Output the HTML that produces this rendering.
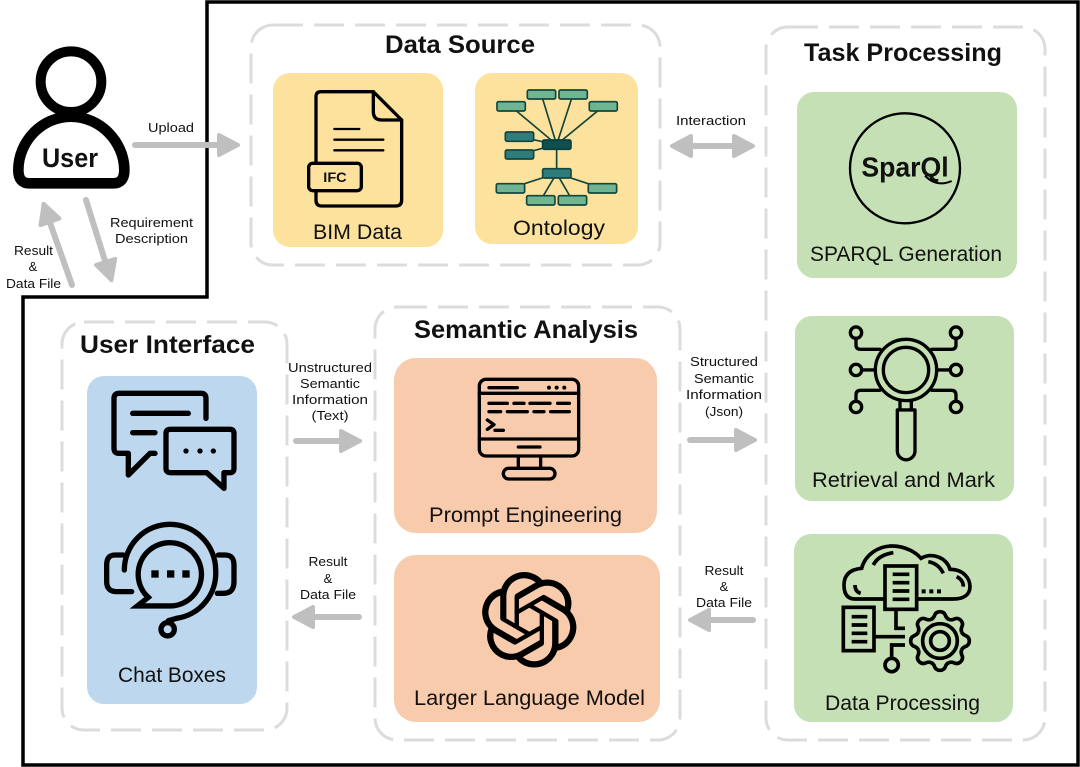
<!DOCTYPE html>
<html><head><meta charset="utf-8"><style>
html,body{margin:0;padding:0;background:#fff}
svg{display:block}
text{font-family:"Liberation Sans",sans-serif;fill:#111}
.l{font-size:13px;text-anchor:middle}
.c{font-size:21px;text-anchor:middle}
.t{font-size:25px;font-weight:bold;text-anchor:middle}
.d{fill:none;stroke:#dcdcdc;stroke-width:3;stroke-dasharray:30 11}
.a{stroke:#bfbfbf;stroke-width:6;stroke-linecap:round;fill:none}
.h{fill:#bfbfbf;stroke:#bfbfbf;stroke-width:4;stroke-linejoin:round}
.i{fill:none;stroke:#000;stroke-linecap:round;stroke-linejoin:round}
</style></head><body>
<svg width="1080" height="767" viewBox="0 0 1080 767" xmlns="http://www.w3.org/2000/svg">
<defs><polygon id="ah" class="h" points="-21,-10 -2,0 -21,10"/>
<path id="gt" d="M-26.8,-64.7 Q-20,-68 -17,-75 Q-13,-88 0,-88 Q13,-88 17,-75 Q20,-68 26.8,-64.7"/></defs>
<rect width="1080" height="767" fill="#fff"/>
<path d="M207,2 H1078 V765 H23 V297 H207 Z" fill="none" stroke="#000" stroke-width="3.5"/>

<rect class="d" x="251" y="25" width="409" height="240" rx="22"/>
<rect class="d" x="766" y="27" width="279" height="713" rx="22"/>
<rect class="d" x="375" y="307" width="305" height="433" rx="22"/>
<rect class="d" x="62" y="322" width="225" height="408" rx="22"/>

<rect x="273" y="73" width="170" height="174" rx="17" fill="#fde29d"/>
<rect x="475" y="73" width="163" height="171" rx="17" fill="#fde29d"/>
<rect x="797" y="92" width="220" height="186" rx="17" fill="#c5e0b4"/>
<rect x="795" y="316" width="219" height="185" rx="17" fill="#c5e0b4"/>
<rect x="794" y="534" width="219" height="188" rx="17" fill="#c5e0b4"/>
<rect x="394" y="358" width="263" height="175" rx="22" fill="#f8cbad"/>
<rect x="394" y="555" width="266" height="167" rx="22" fill="#f8cbad"/>
<rect x="87" y="376" width="170" height="328" rx="17" fill="#bdd7ee"/>

<!-- User -->
<g transform="scale(.3333)">
<circle cx="213" cy="245" r="91" fill="none" stroke="#000" stroke-width="30"/>
<path d="M88,550 Q55,550 55,510 C55,425 125,350 213,350 C300,350 373,425 373,510 Q373,550 340,550 Z" fill="#fff" stroke="#000" stroke-width="32" stroke-linejoin="round"/>
</g>
<text x="70" y="167" font-size="27" font-weight="bold" text-anchor="middle" textLength="56" lengthAdjust="spacingAndGlyphs">User</text>

<!-- Arrows -->
<line class="a" x1="135" y1="145" x2="220" y2="145"/><use href="#ah" transform="translate(240,145)"/>
<line class="a" x1="72" y1="285" x2="49" y2="220"/><use href="#ah" transform="translate(43,202) rotate(-109.3)"/>
<line class="a" x1="86" y1="200" x2="106" y2="264"/><use href="#ah" transform="translate(112,282) rotate(72.4)"/>
<line class="a" x1="690" y1="146" x2="735" y2="146"/><use href="#ah" transform="translate(755,146)"/><use href="#ah" transform="translate(670,146) rotate(180)"/>
<line class="a" x1="296" y1="441" x2="342" y2="441"/><use href="#ah" transform="translate(362,441)"/>
<line class="a" x1="690" y1="440" x2="737" y2="440"/><use href="#ah" transform="translate(757,440)"/>
<line class="a" x1="359" y1="617" x2="312" y2="617"/><use href="#ah" transform="translate(292,617) rotate(180)"/>
<line class="a" x1="753" y1="620" x2="708" y2="620"/><use href="#ah" transform="translate(688,620) rotate(180)"/>

<!-- Titles -->
<text class="t" x="460" y="53" textLength="150" lengthAdjust="spacingAndGlyphs">Data Source</text>
<text class="t" x="903" y="61" textLength="198" lengthAdjust="spacingAndGlyphs">Task Processing</text>
<text class="t" x="526" y="338" textLength="224" lengthAdjust="spacingAndGlyphs">Semantic Analysis</text>
<text class="t" x="167.500" y="353" textLength="175" lengthAdjust="spacingAndGlyphs">User Interface</text>

<!-- Card labels -->
<text class="c" x="357.500" y="239" textLength="89" lengthAdjust="spacingAndGlyphs">BIM Data</text>
<text class="c" x="559" y="235" textLength="92" lengthAdjust="spacingAndGlyphs">Ontology</text>
<text class="c" x="906" y="261" textLength="192" lengthAdjust="spacingAndGlyphs">SPARQL Generation</text>
<text class="c" x="903.500" y="487" textLength="183" lengthAdjust="spacingAndGlyphs">Retrieval and Mark</text>
<text class="c" x="902.500" y="710" textLength="155" lengthAdjust="spacingAndGlyphs">Data Processing</text>
<text class="c" x="525.500" y="522" textLength="193" lengthAdjust="spacingAndGlyphs">Prompt Engineering</text>
<text class="c" x="529.500" y="705" textLength="231" lengthAdjust="spacingAndGlyphs">Larger Language Model</text>
<text class="c" x="172" y="682" textLength="108" lengthAdjust="spacingAndGlyphs">Chat Boxes</text>

<!-- Connector labels -->
<text class="l" x="171" y="132" textLength="46" lengthAdjust="spacingAndGlyphs">Upload</text>
<text class="l" x="151.500" y="227" textLength="83" lengthAdjust="spacingAndGlyphs">Requirement</text>
<text class="l" x="151.500" y="243" textLength="73" lengthAdjust="spacingAndGlyphs">Description</text>
<text class="l" x="33.500" y="255" textLength="39" lengthAdjust="spacingAndGlyphs">Result</text>
<text class="l" x="33" y="271">&amp;</text>
<text class="l" x="33.500" y="288" textLength="55" lengthAdjust="spacingAndGlyphs">Data File</text>
<text class="l" x="711" y="125" textLength="70" lengthAdjust="spacingAndGlyphs">Interaction</text>
<text class="l" x="330" y="372" textLength="84" lengthAdjust="spacingAndGlyphs">Unstructured</text>
<text class="l" x="330" y="388" textLength="60" lengthAdjust="spacingAndGlyphs">Semantic</text>
<text class="l" x="330" y="404" textLength="76" lengthAdjust="spacingAndGlyphs">Information</text>
<text class="l" x="330" y="420" textLength="37" lengthAdjust="spacingAndGlyphs">(Text)</text>
<text class="l" x="724" y="366" textLength="68" lengthAdjust="spacingAndGlyphs">Structured</text>
<text class="l" x="724" y="383" textLength="60" lengthAdjust="spacingAndGlyphs">Semantic</text>
<text class="l" x="724" y="399" textLength="76" lengthAdjust="spacingAndGlyphs">Information</text>
<text class="l" x="724" y="416" textLength="38" lengthAdjust="spacingAndGlyphs">(Json)</text>
<text class="l" x="328" y="566" textLength="39" lengthAdjust="spacingAndGlyphs">Result</text>
<text class="l" x="328" y="583">&amp;</text>
<text class="l" x="328" y="599" textLength="56" lengthAdjust="spacingAndGlyphs">Data File</text>
<text class="l" x="724" y="575" textLength="39" lengthAdjust="spacingAndGlyphs">Result</text>
<text class="l" x="724" y="591">&amp;</text>
<text class="l" x="724" y="607" textLength="56" lengthAdjust="spacingAndGlyphs">Data File</text>

<!-- BIM + Ontology icons -->
<g transform="translate(265,60) scale(.3333)">
<g class="i" stroke-width="10">
<path d="M153,310 V110 Q153,95 168,95 H325 L410,180 V420 Q410,438 392,438 H170 Q153,438 153,420 V393"/>
<path d="M325,95 V155 Q325,180 350,180 H410"/>
<path d="M208,207 H283 M208,239 H355 M208,271 H355" stroke-width="7"/>
<rect x="131" y="310" width="158" height="82" rx="12"/>
</g>
<text x="210" y="366" font-size="42" font-weight="bold" text-anchor="middle" textLength="70" lengthAdjust="spacingAndGlyphs">IFC</text>
<g stroke="#14463c" stroke-width="5" fill="none">
<path d="M875,254 L738,139 M875,254 L829,103 M875,254 L924,103 M875,254 L1015,139 M875,254 L763,230 M875,254 L763,283 M875,254 V340 L736,385 M875,340 L827,421 M875,340 L922,421 M875,340 L1012,385"/>
</g>
<g stroke="#14463c" stroke-width="5" fill="#6fb592">
<rect x="787" y="90" width="85" height="27" rx="5"/><rect x="882" y="90" width="85" height="27" rx="5"/>
<rect x="696" y="125" width="85" height="28" rx="5"/><rect x="973" y="125" width="84" height="28" rx="5"/>
<rect x="694" y="371" width="85" height="28" rx="5"/><rect x="970" y="371" width="85" height="28" rx="5"/>
<rect x="785" y="407" width="85" height="28" rx="5"/><rect x="880" y="407" width="85" height="28" rx="5"/>
</g>
<g stroke="#14463c" stroke-width="5" fill="#2f7c7c">
<rect x="721" y="216" width="85" height="28" rx="5"/><rect x="721" y="270" width="85" height="27" rx="5"/>
<rect x="833" y="326" width="85" height="28" rx="5"/>
</g>
<rect x="833" y="240" width="85" height="28" rx="5" stroke="#0c3f3f" stroke-width="5" fill="#0f4f4f"/>
</g>

<!-- SPARQL + Retrieval -->
<g transform="translate(790,85) scale(.3333)">
<circle cx="345" cy="250" r="165" fill="none" stroke="#000" stroke-width="7"/>
<text x="345" y="275" font-size="84" font-weight="bold" text-anchor="middle" textLength="262" lengthAdjust="spacingAndGlyphs">SparQl</text>
<path d="M405,272 Q440,308 485,288" fill="none" stroke="#000" stroke-width="6"/>
<g class="i" stroke-width="10">
<circle cx="348" cy="855" r="92"/><circle cx="348" cy="855" r="68"/>
<path d="M330,948 V975 M364,948 V975 M322,975 H375 V1098 A26 26 0 0 1 322,1098 Z"/>
<circle cx="198" cy="743" r="17"/><circle cx="498" cy="743" r="17"/><circle cx="198" cy="855" r="17"/><circle cx="498" cy="855" r="17"/><circle cx="198" cy="966" r="17"/><circle cx="498" cy="966" r="17"/>
<path d="M198,760 V780 Q198,793 212,793 H270 M498,760 V780 Q498,793 484,793 H425 M215,855 H255 M481,855 H441 M198,949 V930 Q198,916 212,916 H270 M498,949 V930 Q498,916 484,916 H425"/>
</g>
</g>

<!-- Data processing -->
<g transform="translate(790,530) scale(.3333)">
<g fill="none" stroke="#000" stroke-width="11">
<path d="M285,207 H195 Q162,207 162,165 Q162,120 215,115 C225,75 265,48 305,48 C350,48 380,70 393,85 C430,65 470,85 480,118 C520,118 540,145 540,170 C540,195 520,207 490,207 H380"/>
<path d="M250,105 Q265,75 310,68 M415,95 Q445,100 460,130 M195,165 Q195,185 212,190 M500,140 Q520,150 520,170"/>
<rect x="285" y="108" width="95" height="130" fill="#c5e0b4"/>
<rect x="160" y="232" width="92" height="130" fill="#c5e0b4"/>
<path d="M308,133 H358 M308,158 H358 M308,183 H358 M308,208 H358 M185,260 H232 M185,285 H232 M185,310 H232 M185,335 H232"/>
<path d="M318,238 V295 H345 M252,320 H345 M345,345 H305 V385"/>
<circle cx="305" cy="405" r="20"/>
<path d="M395,184 H455" stroke-width="12" stroke-dasharray="12 11"/>
<g transform="translate(450,333)">
<use href="#gt"/><use href="#gt" transform="rotate(45)"/><use href="#gt" transform="rotate(90)"/><use href="#gt" transform="rotate(135)"/><use href="#gt" transform="rotate(180)"/><use href="#gt" transform="rotate(225)"/><use href="#gt" transform="rotate(270)"/><use href="#gt" transform="rotate(315)"/>
<circle r="52"/><circle r="28"/>
</g>
</g>
</g>

<!-- Prompt -->
<g transform="translate(390,350) scale(.3333)">
<g class="i" stroke-width="10">
<rect x="268" y="88" width="298" height="230" rx="20"/>
<path d="M268,130 H566 M268,267 H566"/>
<path d="M297,113 H382 M385,291 H450"/>
<path d="M297,160 H352 M372,160 H402 M420,160 H480 M503,160 H538 M297,185 H332 M352,185 H412 M432,185 H462 M482,185 H538"/>
<path d="M292,210 L312,224 L292,238 M315,241 H340"/>
<path d="M385,318 V355 M452,318 V355"/>
<rect x="340" y="355" width="155" height="32" rx="16"/>
</g>
<circle cx="477" cy="113" r="6"/><circle cx="500" cy="113" r="6"/><circle cx="523" cy="113" r="6"/>
</g>
<!-- LLM knot icon -->
<g transform="translate(481.500,572) scale(3.98)">
<path d="M22.2819 9.8211a5.9847 5.9847 0 0 0-.5157-4.9108 6.0462 6.0462 0 0 0-6.5098-2.9A6.0651 6.0651 0 0 0 4.9807 4.1818a5.9847 5.9847 0 0 0-3.9977 2.9 6.0462 6.0462 0 0 0 .7427 7.0966 5.98 5.98 0 0 0 .511 4.9107 6.051 6.051 0 0 0 6.5146 2.9001A5.9847 5.9847 0 0 0 13.2599 24a6.0557 6.0557 0 0 0 5.7718-4.2058 5.9894 5.9894 0 0 0 3.9977-2.9001 6.0557 6.0557 0 0 0-.7475-7.0729zm-9.022 12.6081a4.4755 4.4755 0 0 1-2.8764-1.0408l.1419-.0804 4.7783-2.7582a.7948.7948 0 0 0 .3927-.6813v-6.7369l2.02 1.1686a.071.071 0 0 1 .038.052v5.5826a4.504 4.504 0 0 1-4.4945 4.4944zm-9.6607-4.1254a4.4708 4.4708 0 0 1-.5346-3.0137l.142.0852 4.783 2.7582a.7712.7712 0 0 0 .7806 0l5.8428-3.3685v2.3324a.0804.0804 0 0 1-.0332.0615L9.74 19.9502a4.4992 4.4992 0 0 1-6.1408-1.6464zM2.3408 7.8956a4.485 4.485 0 0 1 2.3655-1.9728V11.6a.7664.7664 0 0 0 .3879.6765l5.8144 3.3543-2.0201 1.1685a.0757.0757 0 0 1-.071 0l-4.8303-2.7865A4.504 4.504 0 0 1 2.3408 7.872zm16.5963 3.8558L13.1038 8.364 15.1192 7.2a.0757.0757 0 0 1 .071 0l4.8303 2.7913a4.4944 4.4944 0 0 1-.6765 8.1042v-5.6772a.79.79 0 0 0-.407-.667zm2.0107-3.0231l-.142-.0852-4.7735-2.7818a.7759.7759 0 0 0-.7854 0L9.409 9.2297V6.8974a.0662.0662 0 0 1 .0284-.0615l4.8303-2.7866a4.4992 4.4992 0 0 1 6.6802 4.66zM8.3065 12.863l-2.02-1.1638a.0804.0804 0 0 1-.038-.0567V6.0742a4.4992 4.4992 0 0 1 7.3757-3.4537l-.142.0805L8.704 5.459a.7948.7948 0 0 0-.3927.6813zm1.0976-2.3654l2.602-1.4998 2.6069 1.4998v2.9994l-2.5974 1.4997-2.6067-1.4997Z" fill="#000"/>
</g>

<!-- Chat -->
<g transform="translate(80,370) scale(.3333)">
<g class="i" stroke-width="16">
<path d="M378,145 V85 Q378,70 363,70 H118 Q102,70 102,85 V235 Q102,250 117,250 H145 V315 L210,250 H225"/>
<path d="M158,130 H325 M158,188 H225"/>
<path d="M272,178 H450 Q462,178 462,190 V295 Q462,308 450,308 H432 V355 L380,308 H272 Q258,308 258,295 V190 Q258,178 272,178 Z"/>
<path d="M130,555 H105 Q80,555 80,585 V635 Q80,665 110,665 H155 M415,555 H435 Q462,555 462,585 V635 Q462,670 430,670 H412"/>
<path d="M133,600 A137 137 0 0 1 407,600 A137 137 0 0 1 290,745 L265,752"/>
<circle cx="263" cy="778" r="20"/>
<path d="M172,708 H272 A95 95 0 1 0 195,672 L205,682 Z" stroke-linejoin="miter"/>
</g>
<g><circle cx="318" cy="243" r="8"/><circle cx="360" cy="243" r="8"/><circle cx="400" cy="243" r="8"/>
<rect x="214" y="601" width="22" height="22"/><rect x="261" y="601" width="22" height="22"/><rect x="307" y="601" width="22" height="22"/></g>
</g>
</svg>
</body></html>
